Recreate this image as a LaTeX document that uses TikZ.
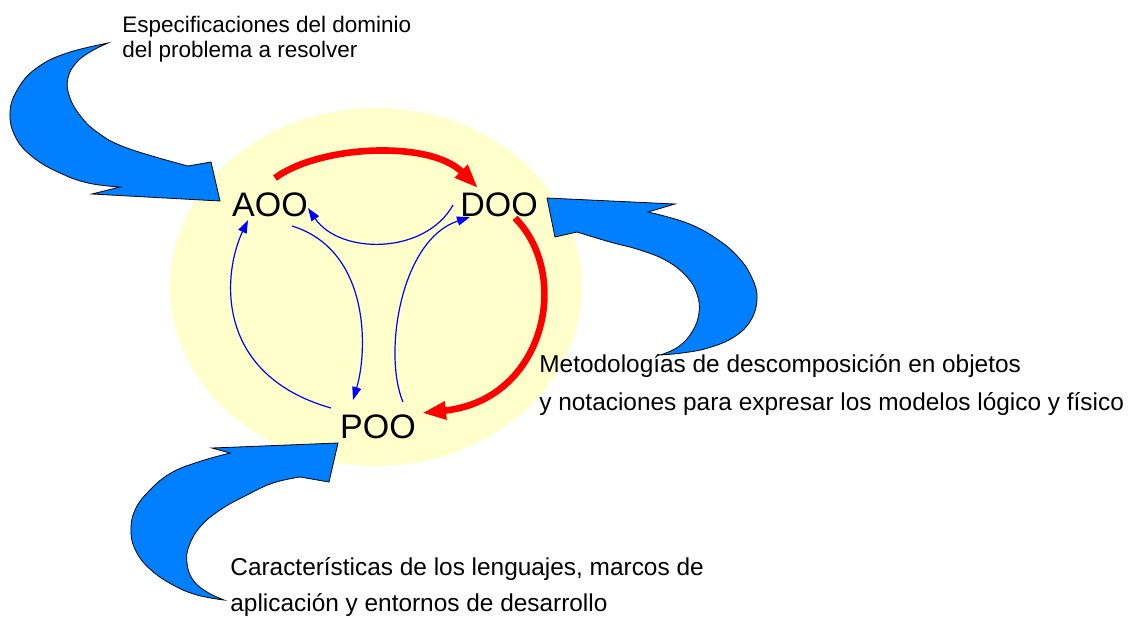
\documentclass[tikz,border=0pt]{standalone}
\usepackage{fontspec}
\setmainfont{Liberation Sans}
\usetikzlibrary{arrows.meta,calc}
\definecolor{bgyellow}{HTML}{FFFFCC}
\definecolor{bigblue}{HTML}{0080FF}
\begin{document}
\begin{tikzpicture}[x=0.5pt,y=-0.5pt,
  bigarrow/.style={fill=bigblue, draw=black, line width=0.4pt, line join=miter},
  redarrow/.style={draw=red, line width=3.3pt, -{Triangle[length=12pt,width=8.5pt]}},
  bluearrow/.style={draw=blue, line width=0.6pt, -{Triangle[length=6.5pt,width=4.5pt]}},
  stage/.style={font=\fontsize{17}{20}\selectfont, inner sep=0pt},
  note/.style={font=\fontsize{12.2}{14}\selectfont, inner sep=0pt, anchor=base west},
  notesmall/.style={font=\fontsize{11.25}{13}\selectfont, inner sep=0pt, anchor=base west}]
\useasboundingbox (0,0) rectangle (1136,617);

% background ellipse
\fill[bgyellow] (376,287) ellipse [x radius=206, y radius=179];

% big blue arrows
\draw[bigarrow] plot[smooth, tension=0.7] coordinates {(108,43) (67,53) (38,67) (19,87) (10,112) (16,138) (34,158) (60,173) (88,183) (120,187)}
  -- (92,194) -- (220,201) -- (211,162)
  -- plot[smooth, tension=0.7] coordinates {(188,166) (127,148) (97,132) (79,114) (69,95) (68,78) (76,63) (90,52) (108,43)} -- cycle;

\draw[bigarrow] (547,198) -- (675,204)
  -- plot[smooth, tension=0.7] coordinates {(648,212) (687,223) (717,239) (739,258) (752,278) (757,298) (751,320) (734,337) (708,348) (682,353) (660,355)}
  -- plot[smooth, tension=0.7] coordinates {(660,355) (678,347) (692,332) (699,313) (697,294) (687,277) (667,261) (640,250) (610,242) (577,232)}
  -- (555,237) -- cycle;

\draw[bigarrow] (338,443) -- (329,482)
  -- plot[smooth, tension=0.7] coordinates {(300,477) (273,483) (247,495) (220,510) (200,527) (189,546) (187,563) (193,580) (207,592) (224,600)}
  -- plot[smooth, tension=0.7] coordinates {(224,600) (197,595) (173,585) (151,570) (137,553) (131,533) (135,510) (150,490) (171,473) (198,462) (230,453)}
  -- (212,448) -- cycle;

% stage nodes
\node[stage] (AOO) at (270,205) {AOO};
\node[stage] (DOO) at (499,205) {DOO};
\node[stage] (POO) at (378,427) {POO};

% red arrows
\draw[redarrow] ($(AOO)+(5,-27)$) .. controls (320,145) and (430,140) .. ($(DOO)+(-21,-17)$);
\draw[redarrow] ($(DOO)+(16,13)$) .. controls (572,275) and (545,400) .. ($(POO)+(44,-14)$);

% blue arrows
\draw[bluearrow] ($(DOO)+(-46,0)$) .. controls (425,255) and (340,255) .. ($(AOO)+(38,3)$);
\draw[bluearrow] ($(AOO)+(22,21)$) .. controls (370,250) and (368,350) .. ($(POO)+(-25,-27)$);
\draw[bluearrow] ($(POO)+(25,-25)$) .. controls (383,355) and (400,240) .. ($(DOO)+(-29,12)$);
\draw[bluearrow] ($(POO)+(-47,-19)$) .. controls (215,375) and (222,275) .. ($(AOO)+(-22,15)$);

% notes
\node[notesmall] (spec1) at (122,32) {Especificaciones del dominio};
\node[notesmall] (spec2) at (122,57) {del problema a resolver};
\node[note] (met1) at (539,372) {Metodologías de descomposición en objetos};
\node[note] (met2) at (539,410) {y notaciones para expresar los modelos lógico y físico};
\node[note] (car1) at (230,575) {Características de los lenguajes, marcos de};
\node[note] (car2) at (230,611) {aplicación y entornos de desarrollo};
\end{tikzpicture}
\end{document}
